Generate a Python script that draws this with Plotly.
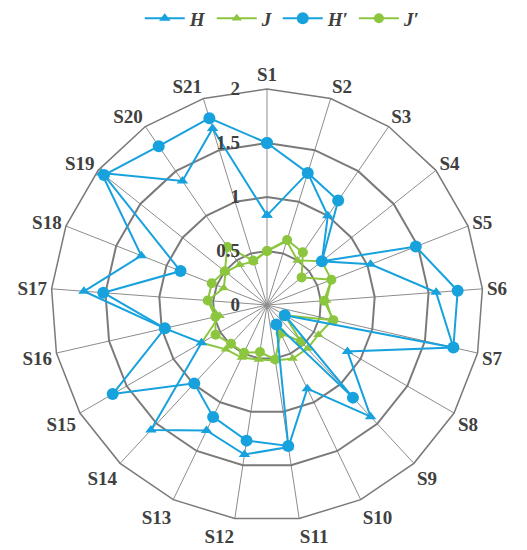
import plotly.graph_objects as go

categories = [f"S{i}" for i in range(1, 22)]

h_vals = [0.83, 1.28, 1.00, 0.65, 1.03, 1.57, 1.77, 0.86, 1.41, 0.86, 1.33,
          1.40, 1.29, 1.58, 0.70, 0.97, 1.70, 1.25, 1.96, 1.39, 1.71]
j_vals = [0.50, 0.62, 0.50, 0.65, 0.64, 0.55, 0.62, 0.55, 0.55, 0.55, 0.52,
          0.51, 0.54, 0.56, 0.70, 0.45, 0.55, 0.43, 0.49, 0.45, 0.42]
h2_vals = [1.50, 1.28, 1.17, 0.65, 1.48, 1.77, 1.77, 0.19, 1.17, 0.20, 1.32,
           1.27, 1.15, 0.99, 1.65, 0.97, 1.52, 0.86, 1.93, 1.78, 1.81]
j2_vals = [0.50, 0.63, 0.59, 0.41, 0.64, 0.53, 0.63, 0.19, 0.46, 0.29, 0.51,
           0.44, 0.49, 0.49, 0.55, 0.49, 0.55, 0.55, 0.50, 0.65, 0.43]

radial_ticks = [0, 0.5, 1, 1.5, 2]

BLUE = "#17A2DE"
GREEN = "#8CC63F"
TXT = "#404040"
FONT = "Liberation Serif"


def closed(v):
    return v + v[:1]


theta = closed(categories)

series = [
    # name, values, colour, symbol, size, legend rank
    ("<i>J</i>", j_vals, GREEN, "triangle-up", 9, 2),
    ("<i>J′</i>", j2_vals, GREEN, "circle", 10, 4),
    ("<i>H</i>", h_vals, BLUE, "triangle-up", 10, 1),
    ("<i>H′</i>", h2_vals, BLUE, "circle", 12, 3),
]

fig = go.Figure()
for name, vals, col, sym, size, rank in series:
    fig.add_trace(go.Scatterpolar(
        r=closed(vals),
        theta=theta,
        name=name,
        mode="lines+markers",
        line=dict(color=col, width=2),
        marker=dict(symbol=sym, size=size, color=col),
        legendrank=rank,
    ))

bold = dict(family=FONT, size=19, color=TXT, weight="bold")
pad = "\u00a0" * 5  # pushes radial labels to the left of the S1 spoke

fig.update_layout(
    width=527,
    height=550,
    paper_bgcolor="white",
    plot_bgcolor="white",
    margin=dict(l=43, r=52, t=81, b=37, autoexpand=False),
    font=bold,
    legend=dict(
        orientation="h",
        xref="container", yref="container",
        x=0.25, xanchor="left",
        y=0.981, yanchor="middle",
        font=bold,
        itemwidth=40,
        traceorder="normal",
    ),
    polar=dict(
        bgcolor="white",
        gridshape="linear",
        angularaxis=dict(
            rotation=90,
            direction="clockwise",
            showline=True,
            linecolor="#7a7a7a",
            linewidth=1.5,
            gridcolor="#8c8c8c",
            gridwidth=0.8,
            ticks="",
            tickfont=bold,
        ),
        radialaxis=dict(
            range=[0, 2],
            tickvals=radial_ticks,
            ticktext=[str(t) + pad for t in radial_ticks],
            angle=90,
            tickangle=90,
            side="counterclockwise",
            showline=False,
            ticks="",
            gridcolor="#7a7a7a",
            gridwidth=1.5,
            tickfont=bold,
        ),
    ),
)

fig.write_html("out.html")
